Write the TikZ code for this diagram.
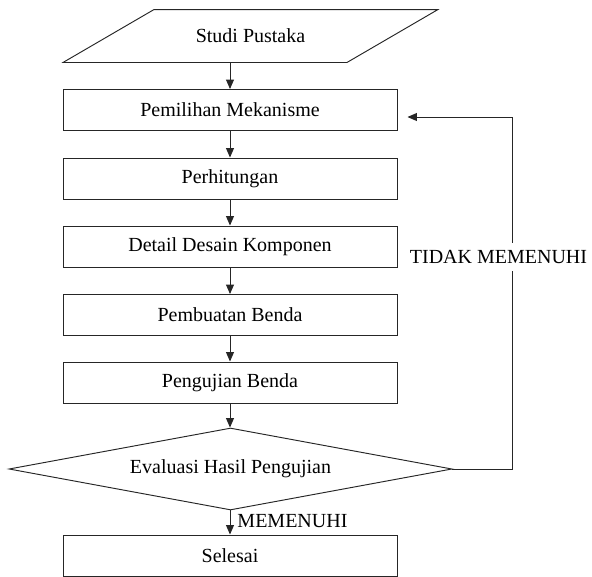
\documentclass[tikz,border=0pt]{standalone}
\usepackage{fontspec}
\setmainfont{Liberation Serif}
\usepackage{tikz}
\usetikzlibrary{arrows.meta}
\usetikzlibrary{shapes.geometric, calc, positioning}

\begin{document}
\begin{tikzpicture}[x=1pt,y=-1pt,line width=0.95pt,
        font=\fontsize{20}{24}\selectfont,
        proses/.style={draw=black!85,rectangle,minimum width=334pt,minimum height=41pt,inner sep=0pt},
        keputusan/.style={draw=black!85,diamond,aspect=5.4,minimum width=443pt,minimum height=82pt,inner sep=0pt},
        panah/.style={draw=black!85,-{Triangle[length=9.5pt,width=8pt]}}]
        \useasboundingbox (0,0) rectangle (592,576);

            % input
            \node (studi) at (250.5,36) [minimum width=283pt,minimum height=52pt,inner sep=0pt] {Studi Pustaka};
            \draw[black!85] ([xshift=-45.5pt]studi.south west) -- ([xshift=45.5pt]studi.north west)
                  -- ([xshift=45.5pt]studi.north east) -- ([xshift=-45.5pt]studi.south east) -- cycle;

            % proses
            \node (pilih) at (230,110) [proses] {Pemilihan Mekanisme};
            \node (hitung) at (230,178.5) [proses] {Perhitungan};
            \node (detail) at (230,246.5) [proses] {Detail Desain Komponen};
            \node (buat) at (230,315) [proses] {Pembuatan Benda};
            \node (uji) at (230,382.5) [proses] {Pengujian Benda};
            \node (eval) at (230.5,469) [keputusan] {Evaluasi Hasil Pengujian};
            \node (selesai) at (230,555.5) [proses] {Selesai};

            \draw[panah] (studi.south -| pilih.north) -- (pilih.north);
            \draw[panah] (pilih) -- (hitung);
            \draw[panah] (hitung) -- (detail);
            \draw[panah] (detail) -- (buat);
            \draw[panah] (buat) -- (uji);
            \draw[panah] (uji.south) -- (uji.south |- eval.north);
            \draw[panah] (eval.south -| selesai.north) -- (selesai.north);

            % umpan balik
            \coordinate (balik) at (512,0);
            \draw[panah] (eval.east) -- (eval.east -| balik) |- ([xshift=10pt,yshift=-7pt]pilih.east);

            \node (tidak) at (498.5,257) [fill=white,inner xsep=1pt,inner ysep=7pt] {TIDAK MEMENUHI};
            \node (ya) at (237,521) [anchor=west,inner sep=0pt] {MEMENUHI};
\end{tikzpicture}
\end{document}
